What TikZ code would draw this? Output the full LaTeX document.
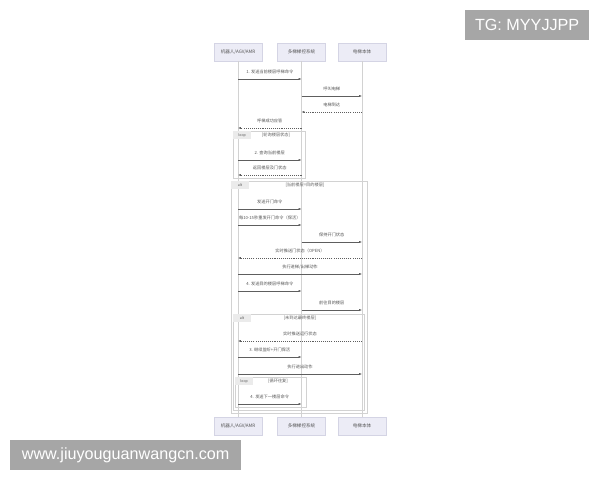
\documentclass[tikz,border=0pt]{standalone}
\usepackage{fontspec}
\setmainfont{Noto Sans CJK SC}
\newfontfamily\wmfont{Liberation Sans}
\usepackage{xcolor}
\usepackage{tikz}
\usetikzlibrary{arrows.meta}
\usetikzlibrary{positioning}

\definecolor{actorfill}{HTML}{ECECF6}
\definecolor{actorline}{HTML}{D4D4E4}
\definecolor{lifegray}{HTML}{D2D2D2}
\definecolor{msggray}{HTML}{5E5E5E}
\definecolor{textgray}{HTML}{555555}
\definecolor{framegray}{HTML}{D2D2D2}
\definecolor{tabgray}{HTML}{EBEBEB}
\definecolor{wmgray}{HTML}{A6A6A6}

\tikzset{
  actor/.style={draw=actorline, fill=actorfill, minimum width=2.4cm, minimum height=0.9cm,
    inner sep=0pt, text=textgray, font=\fontsize{6.5}{8}\selectfont},
  life/.style={draw=lifegray, line width=0.6pt},
  msg/.style={draw=msggray, line width=0.6pt, -{Latex[length=4pt,width=3pt]}},
  reply/.style={msg, dash pattern=on 1.5pt off 1.5pt},
  lbl/.style={above=7pt, inner sep=0pt, text=textgray, font=\fontsize{6}{7}\selectfont},
  frame/.style={draw=framegray, line width=0.6pt},
  tab/.style={fill=tabgray, anchor=north west, inner sep=1pt, minimum width=0.9cm, minimum height=0.4cm,
    text=textgray, font=\fontsize{5}{6}\selectfont, align=left},
  cond/.style={inner sep=0pt, text=msggray, font=\fontsize{6}{7}\selectfont},
  wm/.style={fill=wmgray, anchor=north west, inner sep=0pt, text=white, font=\wmfont\fontsize{23}{26}\selectfont}
}

\begin{document}
\begin{tikzpicture}[x=0.05cm, y=-0.05cm]
        % Robot / elevator call sequence
        \fill[white] (0,0) rectangle (600,480);
        \useasboundingbox (0,0) rectangle (600,480);

        \node[actor] (robotTop) at (238,52) {机器人/AGV/AMR};
        \node[actor] (groupTop) at (301.5,52) {多梯梯控系统};
        \node[actor] (liftTop) at (362,52) {电梯本体};
        \node[actor] (robotBot) at (238,426) {机器人/AGV/AMR};
        \node[actor] (groupBot) at (301.5,426) {多梯梯控系统};
        \node[actor] (liftBot) at (362,426) {电梯本体};

        \draw[life] (robotTop.south) -- (robotBot.north);
        \draw[life] (groupTop.south) -- (groupBot.north);
        \draw[life] (liftTop.south) -- (liftBot.north);

        % frames
        \draw[frame] (233,131) rectangle (305,178);
        \node[tab] (loopTab1) at (233,131) {loop};
        \node[cond] (loopCond1) at (276,135.5) {[轮询楼层状态]};

        \draw[frame] (231,181) rectangle (367,413);
        \node[tab] (altTab1) at (231,181) {alt};
        \node[cond] (altCond1) at (305,185.5) {[当前楼层=目的楼层]};

        \draw[frame] (233,314) rectangle (364,410);
        \node[tab] (altTab2) at (233,314) {alt};
        \node[cond] (altCond2) at (300,318.5) {[未到达最终楼层]};

        \draw[frame] (235,377) rectangle (306,407);
        \node[tab] (loopTab2) at (235,377) {loop};
        \node[cond] (loopCond2) at (278,381.5) {[循环往复]};

        % messages
        \draw[msg] (robotTop.south |- 0,79) -- (groupTop.south |- 0,79) node[midway, lbl] (m1) {1. 发送当前楼层呼梯命令};
        \draw[msg] (groupTop.south |- 0,96) -- (liftTop.south |- 0,96) node[midway, lbl] (m2) {呼叫电梯};
        \draw[reply] (liftTop.south |- 0,112) -- (groupTop.south |- 0,112) node[midway, lbl] (m3) {电梯到达};
        \draw[reply] (groupTop.south |- 0,128) -- (robotTop.south |- 0,128) node[midway, lbl] (m4) {呼梯成功应答};
        \draw[msg] (robotTop.south |- 0,160) -- (groupTop.south |- 0,160) node[midway, lbl] (m5) {2. 查询当前楼层};
        \draw[reply] (groupTop.south |- 0,175) -- (robotTop.south |- 0,175) node[midway, lbl] (m6) {返回楼层及门状态};
        \draw[msg] (robotTop.south |- 0,209) -- (groupTop.south |- 0,209) node[midway, lbl] (m7) {发送开门命令};
        \draw[msg] (robotTop.south |- 0,225) -- (groupTop.south |- 0,225) node[midway, lbl] (m8) {每10-15秒重发开门命令（保活）};
        \draw[msg] (groupTop.south |- 0,242) -- (liftTop.south |- 0,242) node[midway, lbl] (m9) {保持开门状态};
        \draw[reply] (liftTop.south |- 0,258) -- (robotTop.south |- 0,258) node[midway, lbl] (m10) {实时推送门状态（OPEN）};
        \draw[msg] (robotTop.south |- 0,274) -- (liftTop.south |- 0,274) node[midway, lbl] (m11) {执行进梯/出梯动作};
        \draw[msg] (robotTop.south |- 0,291) -- (groupTop.south |- 0,291) node[midway, lbl] (m12) {4. 发送目的楼层呼梯命令};
        \draw[msg] (groupTop.south |- 0,310) -- (liftTop.south |- 0,310) node[midway, lbl] (m13) {前往目的楼层};
        \draw[reply] (liftTop.south |- 0,341) -- (robotTop.south |- 0,341) node[midway, lbl] (m14) {实时推送运行状态};
        \draw[msg] (robotTop.south |- 0,357) -- (groupTop.south |- 0,357) node[midway, lbl] (m15) {3. 继续监听+开门保活};
        \draw[msg] (robotTop.south |- 0,374) -- (liftTop.south |- 0,374) node[midway, lbl] (m16) {执行进出动作};
        \draw[msg] (robotTop.south |- 0,404) -- (groupTop.south |- 0,404) node[midway, lbl] (m17) {4. 发送下一楼层命令};

        % watermarks
        \node[wm, minimum width=6.2cm, minimum height=1.5cm] (tgMark) at (465,10) {TG: MYYJJPP};
        \node[wm, minimum width=11.55cm, minimum height=1.5cm] (siteMark) at (10,440) {www.jiuyouguanwangcn.com};
    \end{tikzpicture}
\end{document}
